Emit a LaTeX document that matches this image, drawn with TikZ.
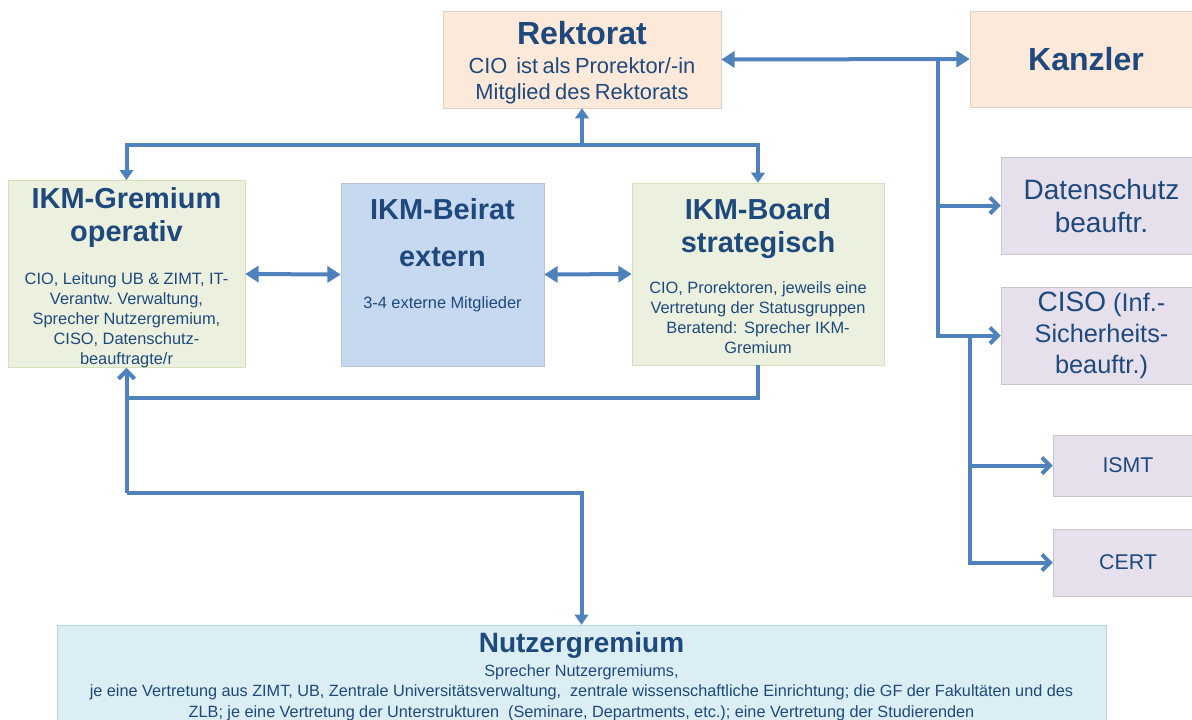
\documentclass[tikz,border=0pt]{standalone}
\usepackage{fontspec}
\setmainfont{Liberation Sans}
\usetikzlibrary{arrows.meta,positioning}
\definecolor{linkblue}{RGB}{79,129,189}
\definecolor{inkblue}{RGB}{31,73,125}
\definecolor{peach}{RGB}{253,233,217}
\definecolor{peachline}{RGB}{222,208,198}
\definecolor{lilac}{RGB}{229,224,236}
\definecolor{lilacline}{RGB}{200,198,210}
\definecolor{sage}{RGB}{235,241,222}
\definecolor{sageline}{RGB}{212,226,186}
\definecolor{sky}{RGB}{198,217,241}
\definecolor{skyline}{RGB}{184,196,214}
\definecolor{aqua}{RGB}{218,238,243}
\definecolor{aqualine}{RGB}{180,214,226}
\newcommand\boxtitle{\fontsize{21.7}{24.75}\selectfont\bfseries}
\newcommand\boxbody{\fontsize{12.3}{15}\selectfont}

\begin{document}
\begin{tikzpicture}[x=0.75pt,y=-0.75pt,
    boxunit/.style={draw=#1,inner sep=0pt,align=center,text=inkblue},
    linkline/.style={draw=linkblue,line width=3pt},
    fatarrow/.style={linkline,{Triangle[width=12pt,length=10pt]}-{Triangle[width=12pt,length=10pt]}},
    triarrow/.style={linkline,-{Triangle[width=10pt,length=7.5pt]}},
    barbarrow/.style={linkline,-{Straight Barb[width=12pt,length=6pt]}}]
\useasboundingbox (0,0) rectangle (1192,719);
\clip (0,0) rectangle (1192,719);

%top row
\node[boxunit=peachline,fill=peach,minimum width=208.5pt,minimum height=72.75pt,text width=205pt] (rekt) at (582,59.5)
    {{\fontsize{24}{28}\selectfont\bfseries\rule{0pt}{22pt}Rektorat\par}\vspace{2.5pt}
     \fontsize{16.4}{19.5}\selectfont CIO\ \ ist als Prorektor/-in\\Mitglied des Rektorats\par};
\node[boxunit=peachline,fill=peach,minimum width=174pt,minimum height=72pt] (kanz) at (1086,59)
    {\fontsize{24}{28}\selectfont\bfseries Kanzler};

%right column
\node[boxunit=lilacline,fill=lilac,minimum width=150.75pt,minimum height=72.75pt,font=\fontsize{21}{24.75}\selectfont] (dsb) at (1101.5,205.5)
    {Datenschutz\\beauftr.};
\node[boxunit=lilacline,fill=lilac,minimum width=150.75pt,minimum height=72.75pt,font=\fontsize{19}{23}\selectfont] (ciso) at (1101.5,335.5)
    {{\fontsize{21}{23}\selectfont CISO} (Inf.-\\Sicherheits-\\beauftr.)};
\node[boxunit=lilacline,fill=lilac,minimum width=112.5pt,minimum height=45.75pt,font=\fontsize{16}{19}\selectfont] (ismt) at (1128,465.5) {ISMT};
\node[boxunit=lilacline,fill=lilac,minimum width=112.5pt,minimum height=50.25pt,font=\fontsize{16}{19}\selectfont] (cert) at (1128,562.5) {CERT};

%IKM row
\node[boxunit=sageline,fill=sage,minimum width=177.75pt,minimum height=138pt,text width=172pt] (grem) at (126.5,274)
    {{\boxtitle\rule{0pt}{21pt}IKM-Gremium\\operativ\par}\vspace{17.25pt}
     \boxbody CIO, Leitung UB \& ZIMT, IT-\\Verantw.\ Verwaltung,\\Sprecher Nutzergremium,\\CISO, Datenschutz-\\beauftragte/r\par};
\node[boxunit=skyline,fill=sky,minimum width=152.25pt,minimum height=137.25pt,text width=148pt] (beir) at (442.5,274.5)
    {{\boxtitle IKM-Beirat\\[10.25pt]extern\par}\vspace{16.5pt}
     \boxbody 3-4 externe Mitglieder\par\vspace{16pt}\hbox{}};
\node[boxunit=sageline,fill=sage,minimum width=189pt,minimum height=136.5pt,text width=184pt] (board) at (758,274)
    {{\boxtitle\rule{0pt}{19pt}IKM-Board\\strategisch\par}\vspace{15.75pt}
     \boxbody CIO, Prorektoren, jeweils eine\\Vertretung der Statusgruppen\\Beratend: Sprecher IKM-\\Gremium\par};

%bottom
\node[boxunit=aqualine,fill=aqua,minimum width=786.75pt,minimum height=74.25pt,text width=780pt] (nutz) at (581.5,674.5)
    {{\fontsize{21}{24}\selectfont\bfseries\rule{0pt}{18.5pt}Nutzergremium\par}\vspace{2.25pt}
     \fontsize{12.2}{15.4}\selectfont Sprecher Nutzergremiums,\\
     je eine Vertretung aus ZIMT, UB, Zentrale Universitätsverwaltung,\ \ zentrale wissenschaftliche Einrichtung; die GF der Fakultäten und des\\
     ZLB; je eine Vertretung der Unterstrukturen\ \ (Seminare, Departments, etc.); eine Vertretung der Studierenden\par};

%connectors
\draw[fatarrow] (rekt.east) -- (kanz.west);
\coordinate (hub) at (938,59.5);
\draw[barbarrow] (hub) |- (dsb.west);
\draw[barbarrow] (hub) |- (ciso.west);
\coordinate (sub) at (970,335.5);
\draw[barbarrow] (sub) |- (ismt.west);
\draw[barbarrow] (sub) |- (cert.west);

\coordinate (top) at (582,145);
\draw[triarrow] (top) -- (rekt.south);
\draw[triarrow] (top) -| (grem.north);
\draw[triarrow] (top) -| (board.north);

\draw[fatarrow] (grem.east) -- (beir.west);
\draw[fatarrow] (beir.east) -- (board.west);

\coordinate (back) at (126.5,398);
\draw[linkline] (board.south) |- (back);
\coordinate (loop) at (126.5,493);
\draw[barbarrow] (loop) -- (grem.south);
\draw[triarrow] (loop) -| (nutz.north);
\end{tikzpicture}
\end{document}
